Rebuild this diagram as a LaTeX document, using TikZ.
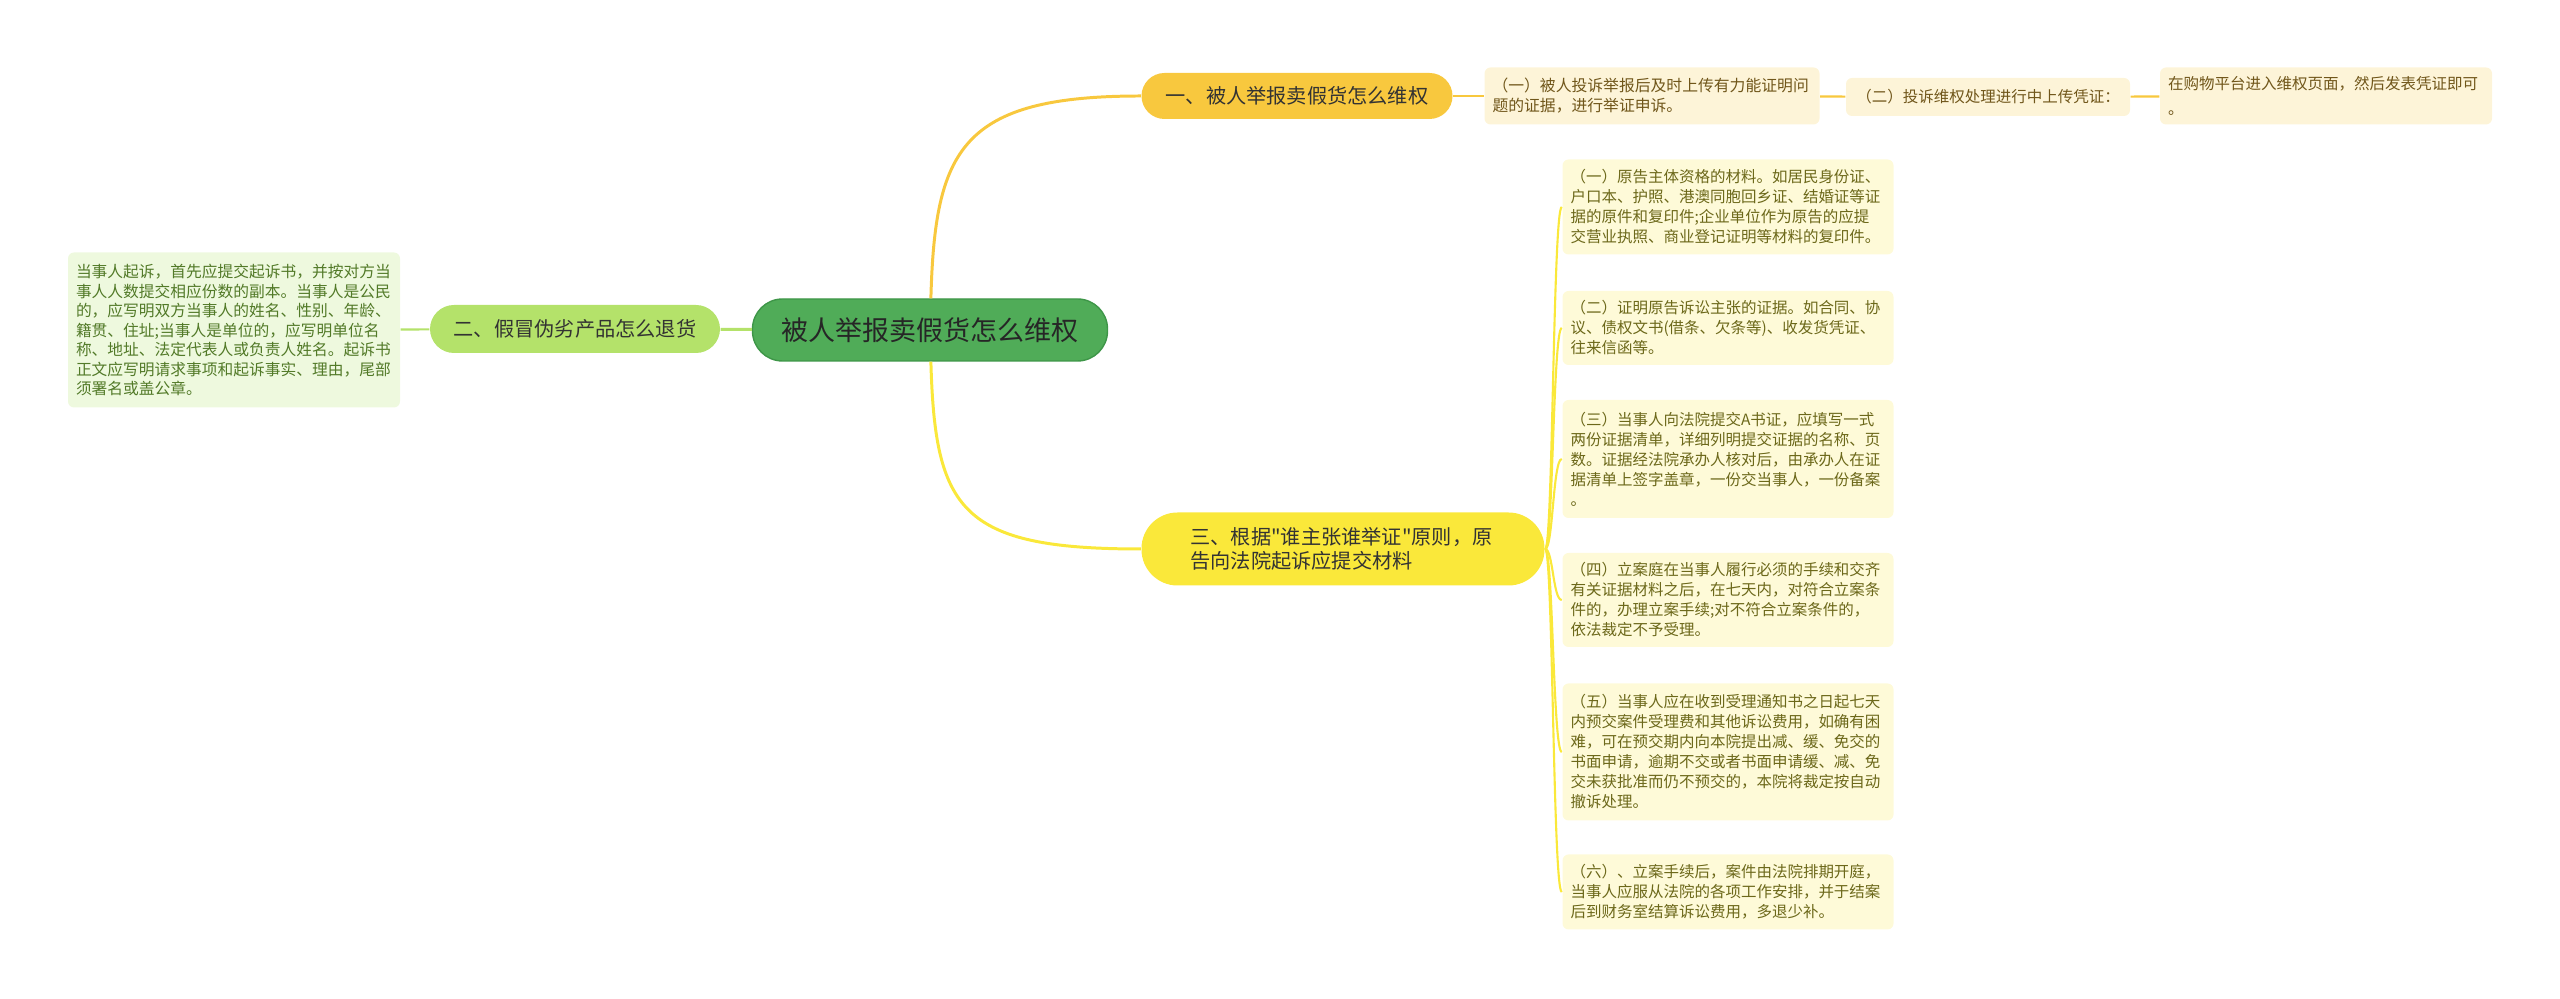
\documentclass[tikz,border=0pt]{standalone}
\usepackage{fontspec}
\setmainfont{Noto Sans CJK SC}[Ligatures=TeXOff]
\usepackage{tikz}
\definecolor{rootgreen}{RGB}{80, 172, 88}
\definecolor{rootline}{RGB}{62, 150, 72}
\definecolor{lime}{RGB}{180, 226, 106}
\definecolor{limeleaf}{RGB}{238, 249, 222}
\definecolor{limetext}{RGB}{82, 122, 40}
\definecolor{gold}{RGB}{248, 200, 62}
\definecolor{goldleaf}{RGB}{253, 244, 216}
\definecolor{goldtext}{RGB}{112, 86, 26}
\definecolor{yel}{RGB}{250, 232, 58}
\definecolor{yelleaf}{RGB}{254, 250, 216}
\definecolor{yeltext}{RGB}{108, 104, 26}

\begin{document}
\begin{tikzpicture}[x=0.1mm, y=-0.1mm,
    rootbox/.style={fill=rootgreen, draw=rootline, line width=0.4pt, rounded corners=3mm,
        minimum width=35.5mm, minimum height=6.2mm, text=black!85,
        font=\fontsize{7.68}{9}\selectfont},
    branchbox/.style={rounded corners=2.3mm, minimum height=4.6mm, text=black!80,
        font=\fontsize{5.75}{6.9}\selectfont},
    leafbox/.style={rounded corners=0.6mm, inner xsep=0.8mm, inner ysep=0.5mm, align=left,
        font=\fontsize{4.41}{5.69}\selectfont},
    thickline/.style={line width=0.85pt},
    thinline/.style={line width=0.6pt}]
\useasboundingbox (0,0) rectangle (2560,999);

% Centro
\node[rootbox] (root) at (930,330) {被人举报卖假货怎么维权};

% Rami
\node[branchbox, fill=lime, minimum width=29mm, minimum height=4.8mm, rounded corners=2.4mm] (br2) at (575,329) {二、假冒伪劣产品怎么退货};
\node[branchbox, fill=gold, minimum width=31.1mm] (br1) at (1297,96) {一、被人举报卖假货怎么维权};
\node[branchbox, fill=yel, minimum width=40.3mm, minimum height=7.3mm, rounded corners=3.6mm,
    text width=30.5mm, align=left] (br3) at (1343,549)
    {三、根据"谁主张谁举证"原则，原\\告向法院起诉应提交材料};

% Foglie ramo due
\node[leafbox, fill=limeleaf, text=limetext, text width=31.6mm, minimum height=15.5mm,
    font=\fontsize{4.48}{5.55}\selectfont] (leaf2) at (234,330)
    {当事人起诉，首先应提交起诉书，并按对方当\\事人人数提交相应份数的副本。当事人是公民\\的，应写明双方当事人的姓名、性别、年龄、\\籍贯、住址;当事人是单位的，应写明单位名\\称、地址、法定代表人或负责人姓名。起诉书\\正文应写明请求事项和起诉事实、理由，尾部\\须署名或盖公章。};

% Foglie ramo uno
\node[leafbox, fill=goldleaf, text=goldtext, text width=31.9mm, minimum height=5.7mm,
    font=\fontsize{4.5}{5.69}\selectfont] (leaf1a) at (1652,96)
    {（一）被人投诉举报后及时上传有力能证明问\\题的证据，进行举证申诉。};
\node[leafbox, fill=goldleaf, text=goldtext, minimum width=28.4mm, minimum height=3.8mm,
    align=center] (leaf1b) at (1988,97) {（二）投诉维权处理进行中上传凭证：};
\node[leafbox, fill=goldleaf, text=goldtext, text width=31.6mm, minimum height=5.7mm,
    font=\fontsize{4.41}{7}\selectfont] (leaf1c) at (2326,96)
    {在购物平台进入维权页面，然后发表凭证即可\\。};

% Foglie ramo tre
\node[leafbox, fill=yelleaf, text=yeltext, text width=31.5mm, minimum height=9.5mm] (leaf3a) at (1728,207)
    {（一）原告主体资格的材料。如居民身份证、\\户口本、护照、港澳同胞回乡证、结婚证等证\\据的原件和复印件;企业单位作为原告的应提\\交营业执照、商业登记证明等材料的复印件。};
\node[leafbox, fill=yelleaf, text=yeltext, text width=31.5mm, minimum height=7.4mm] (leaf3b) at (1728,328)
    {（二）证明原告诉讼主张的证据。如合同、协\\议、债权文书(借条、欠条等)、收发货凭证、\\往来信函等。};
\node[leafbox, fill=yelleaf, text=yeltext, text width=31.5mm, minimum height=11.8mm] (leaf3c) at (1728,459)
    {（三）当事人向法院提交A书证，应填写一式\\两份证据清单，详细列明提交证据的名称、页\\数。证据经法院承办人核对后，由承办人在证\\据清单上签字盖章，一份交当事人，一份备案\\。};
\node[leafbox, fill=yelleaf, text=yeltext, text width=31.5mm, minimum height=9.4mm] (leaf3d) at (1728,600)
    {（四）立案庭在当事人履行必须的手续和交齐\\有关证据材料之后，在七天内，对符合立案条\\件的，办理立案手续;对不符合立案条件的，\\依法裁定不予受理。};
\node[leafbox, fill=yelleaf, text=yeltext, text width=31.5mm, minimum height=13.7mm] (leaf3e) at (1728,752)
    {（五）当事人应在收到受理通知书之日起七天\\内预交案件受理费和其他诉讼费用，如确有困\\难，可在预交期内向本院提出减、缓、免交的\\书面申请，逾期不交或者书面申请缓、减、免\\交未获批准而仍不预交的，本院将裁定按自动\\撤诉处理。};
\node[leafbox, fill=yelleaf, text=yeltext, text width=31.5mm, minimum height=7.5mm] (leaf3f) at (1728,892)
    {（六）、立案手续后，案件由法院排期开庭，\\当事人应服从法院的各项工作安排，并于结案\\后到财务室结算诉讼费用，多退少补。};

% Collegamenti
\draw[thickline, draw=lime] (root) -- (br2);
\draw[thinline, draw=lime] (br2) -- (leaf2);
\draw[thickline, draw=gold] (root) .. controls (935,150) and (960,96) .. (br1);
\draw[thickline, draw=yel] (root) .. controls (935,510) and (960,549) .. (br3);
\draw[thinline, draw=gold] (br1) -- (leaf1a);
\draw[thinline, draw=gold] (leaf1a) -- (leaf1b);
\draw[thinline, draw=gold] (leaf1b) -- (leaf1c);
\foreach \l/\y in {leaf3a/207, leaf3b/328, leaf3c/459, leaf3d/600, leaf3e/752, leaf3f/892}
    \draw[thinline, draw=yel] (br3) .. controls (1553,549) and (1553,\y) .. (\l);
\end{tikzpicture}
\end{document}
